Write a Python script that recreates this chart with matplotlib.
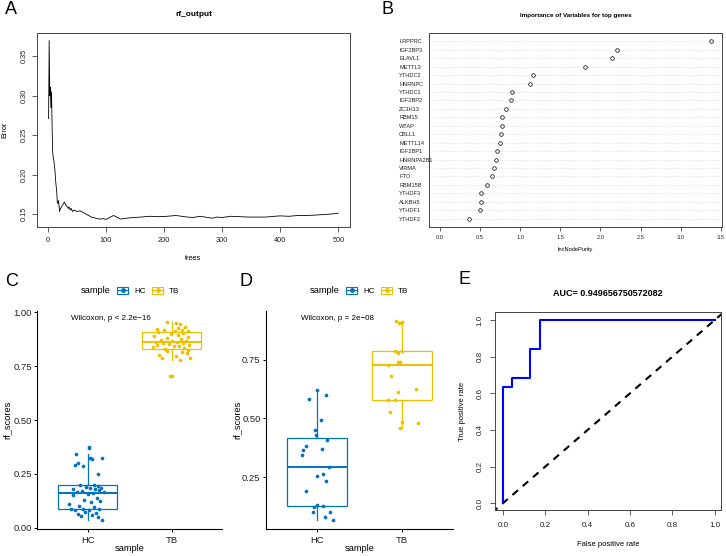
import matplotlib
matplotlib.use("Agg")
import matplotlib.pyplot as plt
from matplotlib.patches import Patch
from matplotlib.lines import Line2D
from matplotlib.legend_handler import HandlerTuple

plt.rcParams["font.family"] = ["Liberation Sans", "DejaVu Sans"]

W, H = 726, 556

# ---------- A: random forest OOB error ----------
trees = [1, 2, 3, 4, 5, 6, 7, 8, 9, 10,
         12, 13, 15, 16, 17, 18, 19, 20, 21, 23,
         25, 28, 30, 32, 35, 36, 38, 40, 42, 45,
         50, 55, 60, 65, 70, 75, 80, 85, 90, 95,
         100, 105, 110, 113, 118, 125, 130, 140, 150, 160,
         175, 190, 205, 220, 230, 240, 250, 262, 275, 283,
         290, 300, 315, 330, 345, 360, 375, 390, 400, 415,
         430, 445, 460, 470, 480, 490, 500]
oob_error = [0.271, 0.370, 0.300, 0.311, 0.285, 0.305, 0.262, 0.228, 0.222, 0.218,
             0.205, 0.193, 0.178, 0.165, 0.163, 0.167, 0.160, 0.153, 0.156, 0.159,
             0.161, 0.165, 0.162, 0.160, 0.157, 0.159, 0.155, 0.157, 0.153, 0.155,
             0.153, 0.154, 0.152, 0.150, 0.148, 0.146, 0.145, 0.144, 0.1435, 0.144,
             0.143, 0.145, 0.147, 0.148, 0.146, 0.1435, 0.144, 0.145, 0.1455, 0.146,
             0.147, 0.1465, 0.147, 0.148, 0.147, 0.146, 0.1455, 0.147, 0.1455, 0.1445,
             0.146, 0.1455, 0.147, 0.1465, 0.146, 0.146, 0.146, 0.147, 0.1475, 0.147,
             0.148, 0.148, 0.1485, 0.149, 0.1495, 0.150, 0.151]

# ---------- B: variable importance ----------
genes = ["LRPPRC", "IGF2BP3", "ELAVL1", "METTL3", "YTHDC2", "HNRNPC", "YTHDC1",
         "IGF2BP2", "ZC3H13", "RBM15", "WTAP", "CBLL1", "METTL14", "IGF2BP1",
         "HNRNPA2B1", "VIRMA", "FTO", "RBM15B", "YTHDF3", "ALKBH5", "YTHDF1", "YTHDF2"]
inc_node_purity = [3.38, 2.21, 2.15, 1.81, 1.16, 1.12, 0.90, 0.89, 0.83, 0.78, 0.77,
                   0.76, 0.75, 0.71, 0.70, 0.68, 0.65, 0.59, 0.51, 0.51, 0.50, 0.36]

# ---------- C: rf scores, training set ----------
groups = ["HC", "TB"]
c_hc_scores = [0.035, 0.050, 0.055, 0.060, 0.065, 0.070, 0.075, 0.080, 0.082, 0.085, 0.086,
               0.088, 0.095, 0.100, 0.110, 0.120, 0.125, 0.130, 0.140, 0.150, 0.155, 0.161,
               0.165, 0.168, 0.172, 0.175, 0.178, 0.180, 0.183, 0.186, 0.190, 0.193, 0.196,
               0.200, 0.247, 0.287, 0.290, 0.300, 0.318, 0.322, 0.325, 0.342, 0.372, 0.376]
c_hc_jitter = [0.17, 0.12, -0.08, 0.05, -0.12, 0.10, -0.03, -0.15, 0.02, 0.13, -0.06,
               -0.20, 0.08, -0.10, -0.22, 0.04, 0.15, -0.04, 0.11, -0.17, 0.00, 0.06,
               -0.13, 0.19, -0.07, 0.14, 0.09, -0.18, 0.03, 0.16, -0.02, 0.12, -0.09,
               0.07, 0.12, -0.06, -0.15, -0.12, 0.05, 0.03, 0.17, -0.14, 0.01, 0.02]
c_tb_scores = [0.704, 0.706, 0.779, 0.786, 0.790, 0.795, 0.802, 0.810, 0.815, 0.820, 0.825,
               0.829, 0.833, 0.838, 0.842, 0.845, 0.848, 0.850, 0.853, 0.856, 0.858, 0.860,
               0.862, 0.865, 0.868, 0.872, 0.876, 0.880, 0.884, 0.888, 0.893, 0.898, 0.905,
               0.910, 0.912, 0.915, 0.918, 0.918, 0.921, 0.925, 0.930, 0.946, 0.952, 0.956]
c_tb_jitter = [-0.02, 0.0, 0.10, -0.12, 0.22, 0.05, -0.15, 0.18, 0.12, -0.05, 0.20,
               -0.08, 0.15, -0.22, 0.03, 0.09, -0.17, 0.21, -0.03, 0.13, -0.10, 0.06,
               -0.19, 0.17, 0.01, -0.13, 0.11, -0.06, 0.19, -0.21, 0.08, -0.01, 0.14,
               -0.16, 0.04, 0.20, -0.09, 0.12, -0.18, 0.07, 0.16, 0.094, 0.055, -0.055]

# ---------- D: rf scores, test set ----------
d_hc_scores = [0.622, 0.582, 0.602, 0.494, 0.451, 0.428, 0.407, 0.383, 0.370, 0.365, 0.344,
               0.294, 0.261, 0.256, 0.233, 0.189, 0.130, 0.120, 0.125, 0.099, 0.100, 0.079, 0.066]
d_hc_jitter = [0.0, -0.099, 0.10, 0.047, -0.024, -0.016, 0.118, -0.13, 0.055, -0.166, -0.177,
               0.145, 0.067, 0.0, 0.11, -0.13, 0.0, -0.035, 0.071, -0.043, 0.153, 0.094, 0.189]
d_tb_scores = [0.917, 0.907, 0.909, 0.913, 0.790, 0.781, 0.790, 0.743, 0.741, 0.729,
               0.682, 0.626, 0.615, 0.579, 0.579, 0.529, 0.486, 0.482, 0.458]
d_tb_jitter = [-0.074, -0.035, -0.015, 0.0, -0.086, -0.043, 0.005, -0.02, -0.045, -0.16,
               -0.125, 0.17, -0.043, -0.165, -0.083, -0.142, -0.004, 0.19, -0.027]

# ---------- E: ROC ----------
fpr = [0.0, 0.0, 0.043, 0.043, 0.130, 0.130, 0.174, 0.174, 1.0]
tpr = [0.0, 0.632, 0.632, 0.684, 0.684, 0.842, 0.842, 1.0, 1.0]
auc_title = "AUC= 0.949656750572082"

HC_COL = "#0073C2"
TB_COL = "#EFC000"
GREY = "#444444"

fig = plt.figure(figsize=(W / 100, H / 100), dpi=100)


def px_axes(l, t, r, b):
    return fig.add_axes([l / W, 1 - b / H, (r - l) / W, (b - t) / H])


def px_text(x, y, s, **kw):
    fig.text(x / W, 1 - y / H, s, **kw)


def base_r(ax, fs, tick_len=3.6):
    for sp in ax.spines.values():
        sp.set_color(GREY)
        sp.set_linewidth(0.7)
    ax.tick_params(length=tick_len, width=0.6, color=GREY, labelsize=fs, labelcolor="#222222")


# ===== A =====
axA = px_axes(37, 33, 350, 227)
axA.plot(trees, oob_error, color="black", lw=0.6)
axA.set_xlim(-18.96, 519.96)
axA.set_ylim(0.1334, 0.3796)
axA.set_xticks([0, 100, 200, 300, 400, 500])
axA.set_yticks([0.15, 0.20, 0.25, 0.30, 0.35])
axA.set_yticklabels(["0.15", "0.20", "0.25", "0.30", "0.35"], rotation=90, va="center")
base_r(axA, 5.3)
axA.tick_params(axis="x", pad=3.6)
axA.tick_params(axis="y", pad=3.2)
px_text(193.5, 15, "rf_output", ha="center", va="center", fontsize=6, fontweight="bold")
px_text(193.5, 259, "trees", ha="center", va="center", fontsize=5.3)
px_text(5, 130, "Error", ha="center", va="center", fontsize=5.3, rotation=90)

# ===== B =====
axB = px_axes(429, 33, 722, 227)
ypos = list(range(len(genes), 0, -1))
for y in ypos:
    axB.axhline(y, color="#c8c8c8", lw=0.5, ls=(0, (1, 2)))
axB.plot(inc_node_purity, ypos, "o", mfc="none", mec="black", ms=2.6, mew=0.5)
axB.set_xlim(-0.135, 3.515)
axB.set_ylim(0, 23)
axB.set_xticks([0.0, 0.5, 1.0, 1.5, 2.0, 2.5, 3.0, 3.5])
axB.set_xticklabels(["0.0", "0.5", "1.0", "1.5", "2.0", "2.5", "3.0", "3.5"])
axB.set_yticks(ypos)
axB.set_yticklabels(genes, ha="left")
base_r(axB, 4.1, tick_len=2.9)
axB.tick_params(axis="y", length=0, pad=21.6)
axB.tick_params(axis="x", pad=2.7)
px_text(575.5, 15, "Importance of Variables for top genes", ha="center", va="center",
        fontsize=4.5, fontweight="bold")
px_text(575.5, 249, "IncNodePurity", ha="center", va="center", fontsize=4.1)


# ===== C & D =====
def box_panel(ax, hc, hcj, tb, tbj, ylim, yticks, ylabs):
    for pos, vals, col in [(1, hc, HC_COL), (2, tb, TB_COL)]:
        ax.boxplot([vals], positions=[pos], widths=0.7, showfliers=False, showcaps=False,
                   patch_artist=True,
                   boxprops=dict(facecolor="white", edgecolor=col, lw=0.9),
                   whiskerprops=dict(color=col, lw=0.9),
                   medianprops=dict(color=col, lw=1.4))
    ax.scatter([1 + j for j in hcj], hc, s=7, color=HC_COL, zorder=3, linewidths=0)
    ax.scatter([2 + j for j in tbj], tb, s=7, color=TB_COL, zorder=3, linewidths=0)
    ax.set_xlim(0.4, 2.6)
    ax.set_ylim(*ylim)
    ax.set_xticks([1, 2])
    ax.set_xticklabels(groups)
    ax.set_yticks(yticks)
    ax.set_yticklabels(ylabs)
    for s in ["top", "right"]:
        ax.spines[s].set_visible(False)
    for s in ["left", "bottom"]:
        ax.spines[s].set_color("black")
        ax.spines[s].set_linewidth(0.8)
    ax.tick_params(length=2.3, width=0.7, labelsize=6.8, labelcolor="#222222")
    ax.tick_params(axis="y", pad=1.6)
    ax.tick_params(axis="x", pad=2.5)


def box_legend(sample_x, handle_x, y):
    px_text(sample_x, y, "sample", ha="center", va="center", fontsize=6.7)
    hs = []
    for col in [HC_COL, TB_COL]:
        hs.append((Patch(facecolor="white", edgecolor=col, lw=0.8),
                   Line2D([0], [0], color=col, lw=0.8, marker="o", ms=2.5)))
    fig.legend(hs, groups, loc="center left", bbox_to_anchor=(handle_x / W, 1 - y / H),
               ncol=2, frameon=False, fontsize=5.8, handlelength=1.4, handleheight=1.0,
               handletextpad=0.7, columnspacing=0.8, borderpad=0, borderaxespad=0,
               numpoints=1, handler_map={tuple: HandlerTuple(ndivide=1)})


axC = px_axes(37.3, 311, 222, 529)
box_panel(axC, c_hc_scores, c_hc_jitter, c_tb_scores, c_tb_jitter, (-0.006, 1.006),
          [0, 0.25, 0.5, 0.75, 1.0], ["0.00", "0.25", "0.50", "0.75", "1.00"])
px_text(70.7, 318.3, "Wilcoxon, p < 2.2e\u221216", ha="left", va="center", fontsize=5.8)
px_text(129.6, 548.3, "sample", ha="center", va="center", fontsize=6.7)
px_text(6.7, 420, "rf_scores", ha="center", va="center", fontsize=6.7, rotation=90)
box_legend(96, 117, 290.7)

axD = px_axes(266, 311, 453, 529)
box_panel(axD, d_hc_scores, d_hc_jitter, d_tb_scores, d_tb_jitter, (0.028, 0.959),
          [0.25, 0.5, 0.75], ["0.25", "0.50", "0.75"])
px_text(301, 318.3, "Wilcoxon, p = 2e\u221208", ha="left", va="center", fontsize=5.8)
px_text(359.5, 548.3, "sample", ha="center", va="center", fontsize=6.7)
px_text(237, 420, "rf_scores", ha="center", va="center", fontsize=6.7, rotation=90)
box_legend(325, 346, 290.7)

# ===== E =====
axE = px_axes(495.3, 312.3, 720.7, 510)
axE.plot([-0.1, 1.1], [-0.1, 1.1], color="black", lw=1.5, ls=(0, (3.5, 3)))
axE.plot(fpr, tpr, color="#0000FF", lw=1.5)
axE.set_xlim(-0.036, 1.028)
axE.set_ylim(-0.037, 1.042)
ticksE = [0.0, 0.2, 0.4, 0.6, 0.8, 1.0]
labsE = ["0.0", "0.2", "0.4", "0.6", "0.8", "1.0"]
axE.set_xticks(ticksE)
axE.set_xticklabels(labsE)
axE.set_yticks(ticksE)
axE.set_yticklabels(labsE, rotation=90, va="center")
base_r(axE, 5.8)
axE.tick_params(axis="x", pad=5)
axE.tick_params(axis="y", pad=5)
px_text(608, 294, auc_title, ha="center", va="center", fontsize=6.5, fontweight="bold")
px_text(608, 545, "False positive rate", ha="center", va="center", fontsize=5.5)
px_text(462.7, 411, "True positive rate", ha="center", va="center", fontsize=5.5, rotation=90)

# panel letters
for lab, x, y in [("A", 11, 9), ("B", 388, 9), ("C", 12, 281), ("D", 246, 281), ("E", 465, 280)]:
    px_text(x, y, lab, ha="center", va="center", fontsize=13)

fig.savefig("out.png", dpi=100)
